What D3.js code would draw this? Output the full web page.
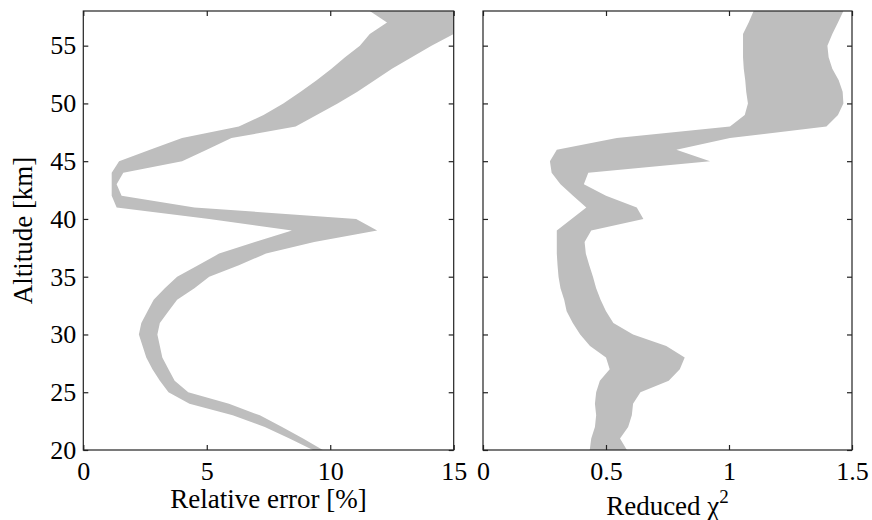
<!DOCTYPE html>
<meta charset="utf-8">
<style>

body {
  margin: 0;
  background: #fff;
}

text {
  font-family: "Liberation Serif", "Times New Roman", serif;
  fill: #000;
}

.band {
  fill: #bebebe;
  stroke: none;
}

.frame {
  fill: none;
  stroke: #222;
  stroke-width: 1.2px;
}

.axis path {
  display: none;
}

.axis line {
  stroke: #222;
  stroke-width: 1.2px;
}

.axis text {
  font-size: 26px;
}

.label {
  font-size: 27px;
}

</style>
<body>
<script src="https://cdnjs.cloudflare.com/ajax/libs/d3/7.8.5/d3.min.js"></script>
<script>

// altitude grid [km]
var altitude = [20, 21, 22, 23, 24, 25, 26, 27, 28, 29,
                30, 31, 32, 33, 34, 35, 36, 37, 38, 39,
                40, 41, 42, 43, 44, 45, 46, 47, 48, 49,
                50, 51, 52, 53, 54, 55, 56, 57, 58];

// relative error band [%], lower and upper edge
var errLow  = [9.3, 8.35, 7.35, 6.05, 4.3, 3.45, 3.1, 2.8, 2.55, 2.4,
               2.25, 2.35, 2.6, 2.85, 3.3, 3.8, 4.65, 5.5, 6.95, 8.45,
               5.1, 1.35, 1.15, 1.15, 1.15, 1.45, 2.7, 4.0, 6.3, 7.3,
               8.1, 8.8, 9.45, 10.05, 10.6, 11.2, 11.6, 12.3, 11.6];
var errHigh = [9.7, 8.9, 8.05, 7.15, 5.9, 4.25, 3.7, 3.45, 3.2, 3.1,
               3.0, 3.1, 3.45, 3.8, 4.5, 5.1, 6.3, 7.4, 9.35, 11.9,
               11.05, 4.5, 1.55, 1.35, 1.62, 4.0, 5.0, 6.0, 8.6, 9.45,
               10.3, 11.1, 11.8, 12.5, 13.3, 14.1, 15.0, 15.5, 16.0];

// reduced chi-square band, lower and upper edge
var chiLow  = [0.434, 0.44, 0.455, 0.46, 0.455, 0.46, 0.475, 0.515, 0.50, 0.435,
               0.395, 0.365, 0.34, 0.33, 0.315, 0.307, 0.303, 0.30, 0.30, 0.30,
               0.36, 0.42, 0.366, 0.315, 0.279, 0.272, 0.30, 0.544, 1.004, 1.064,
               1.077, 1.07, 1.066, 1.06, 1.057, 1.057, 1.057, 1.08, 1.10];
var chiHigh = [0.585, 0.557, 0.59, 0.605, 0.61, 0.64, 0.755, 0.80, 0.82, 0.745,
               0.61, 0.53, 0.50, 0.478, 0.46, 0.447, 0.432, 0.418, 0.413, 0.44,
               0.652, 0.625, 0.50, 0.41, 0.428, 0.923, 0.786, 1.004, 1.396, 1.443,
               1.465, 1.462, 1.446, 1.42, 1.405, 1.40, 1.42, 1.443, 1.465];

var altTicks = [20, 25, 30, 35, 40, 45, 50, 55];
var errTicks = [0, 5, 10, 15];
var chiTicks = [0, 0.5, 1, 1.5];

var width = 872,
    height = 520,
    plotTop = 11,
    plotBottom = 450;

var svg = d3.select("body").append("svg")
    .attr("width", width)
    .attr("height", height);

var y = d3.scaleLinear()
    .domain([20, 58])
    .range([plotBottom, plotTop]);

function drawPanel(id, left, right, domain, ticks, lo, hi, showAlt) {
  var x = d3.scaleLinear()
      .domain(domain)
      .range([left, right]);

  var rows = altitude.map(function(a, i) { return {alt: a, lo: lo[i], hi: hi[i]}; });

  svg.append("clipPath")
      .attr("id", "clip-" + id)
    .append("rect")
      .attr("x", left)
      .attr("y", plotTop)
      .attr("width", right - left)
      .attr("height", plotBottom - plotTop);

  var area = d3.area()
      .y(function(d) { return y(d.alt); })
      .x0(function(d) { return x(d.lo); })
      .x1(function(d) { return x(d.hi); });

  svg.append("path")
      .datum(rows)
      .attr("class", "band")
      .attr("clip-path", "url(#clip-" + id + ")")
      .attr("d", area);

  svg.append("g")
      .attr("class", "axis")
      .attr("transform", "translate(0," + plotBottom + ")")
      .call(d3.axisBottom(x).tickValues(ticks).tickSizeInner(-5).tickSizeOuter(0).tickPadding(12)
          .tickFormat(function(d) { return String(d); }));

  svg.append("g")
      .attr("class", "axis")
      .attr("transform", "translate(0," + plotTop + ")")
      .call(d3.axisTop(x).tickValues(ticks).tickSizeInner(-5).tickSizeOuter(0).tickFormat(""));

  svg.append("g")
      .attr("class", "axis")
      .attr("transform", "translate(" + left + ",0)")
      .call(d3.axisLeft(y).tickValues(altTicks).tickSizeInner(-5).tickSizeOuter(0).tickPadding(7)
          .tickFormat(showAlt ? d3.format("d") : ""));

  svg.append("g")
      .attr("class", "axis")
      .attr("transform", "translate(" + right + ",0)")
      .call(d3.axisRight(y).tickValues(altTicks).tickSizeInner(-5).tickSizeOuter(0).tickFormat(""));

  svg.append("rect")
      .attr("class", "frame")
      .attr("x", left)
      .attr("y", plotTop)
      .attr("width", right - left)
      .attr("height", plotBottom - plotTop);

  return x;
}

var xErr = drawPanel("err", 83.3, 453.7, [0, 15], errTicks, errLow, errHigh, true);
var xChi = drawPanel("chi", 483, 852, [0, 1.5], chiTicks, chiLow, chiHigh, false);

svg.append("text")
    .attr("class", "label")
    .attr("text-anchor", "middle")
    .attr("x", (83.3 + 453.7) / 2)
    .attr("y", 508)
    .text("Relative error [%]");

var chiLabel = svg.append("text")
    .attr("class", "label")
    .attr("text-anchor", "middle")
    .attr("x", (483 + 852) / 2)
    .attr("y", 515);
chiLabel.append("tspan").text("Reduced \u03c7");
chiLabel.append("tspan")
    .attr("dy", -12)
    .style("font-size", "19px")
    .text("2");

svg.append("text")
    .attr("class", "label")
    .attr("text-anchor", "middle")
    .attr("transform", "translate(32," + (plotTop + plotBottom) / 2 + ") rotate(-90)")
    .text("Altitude [km]");

</script>
